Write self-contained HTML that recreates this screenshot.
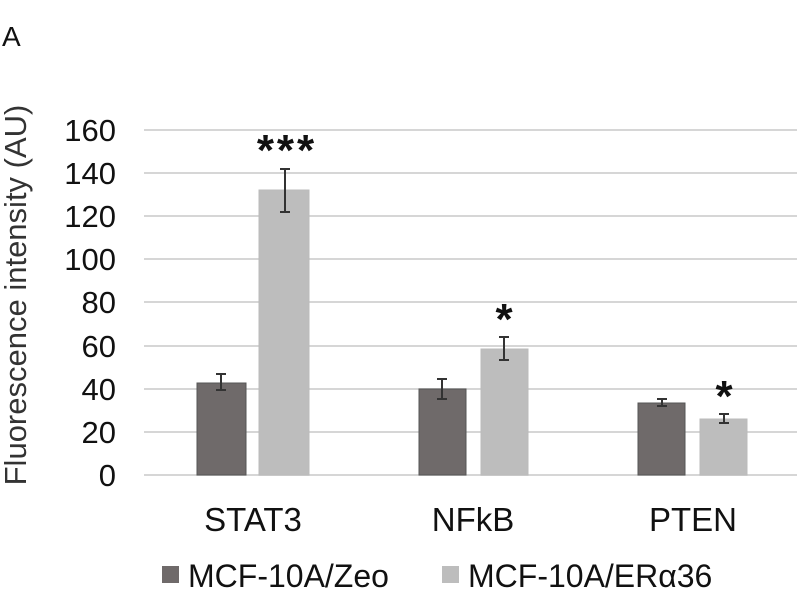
<!DOCTYPE html>
<html><head><meta charset="utf-8"><style>
body{margin:0;background:#fff}
svg{display:block;font-family:"Liberation Sans",Arial,sans-serif}
</style></head><body>
<svg width="800" height="600" viewBox="0 0 800 600">
<text x="2" y="46" font-size="28" fill="#111">A</text>
<g stroke="#d6d6d6" stroke-width="2">
<line x1="144" x2="797" y1="130" y2="130"/><line x1="144" x2="797" y1="173" y2="173"/>
<line x1="144" x2="797" y1="216" y2="216"/><line x1="144" x2="797" y1="259" y2="259"/>
<line x1="144" x2="797" y1="302" y2="302"/><line x1="144" x2="797" y1="346" y2="346"/>
<line x1="144" x2="797" y1="389" y2="389"/><line x1="144" x2="797" y1="432" y2="432"/>
<line x1="144" x2="797" y1="475" y2="475"/>
</g>
<g font-size="31" fill="#111" text-anchor="end">
<text x="116" y="141">160</text><text x="116" y="184">140</text><text x="116" y="227">120</text>
<text x="116" y="270">100</text><text x="116" y="313">80</text><text x="116" y="357">60</text>
<text x="116" y="400">40</text><text x="116" y="443">20</text><text x="116" y="486">0</text>
</g>
<text transform="translate(26,295) rotate(-90)" font-size="31" fill="#333" text-anchor="middle">Fluorescence intensity (AU)</text>
<g stroke="#555" stroke-width="1">
<rect x="197" y="383" width="49" height="92" fill="#6f6a6a"/>
<rect x="259" y="190" width="50" height="285" fill="#bdbdbd" stroke="#bbb"/>
<rect x="419" y="389" width="47" height="86" fill="#6f6a6a"/>
<rect x="481" y="349" width="47" height="126" fill="#bdbdbd" stroke="#bbb"/>
<rect x="638" y="403" width="47" height="72" fill="#6f6a6a"/>
<rect x="700" y="419" width="47" height="56" fill="#bdbdbd" stroke="#bbb"/>
</g>
<g stroke="#333" stroke-width="2" fill="none">
<path d="M221 374V390M216 374h10M216 390h10"/>
<path d="M285 169V212M280 169h10M280 212h10"/>
<path d="M442 379V399M437 379h10M437 399h10"/>
<path d="M504 337V360M499 337h10M499 360h10"/>
<path d="M662 399V406M657 399h10M657 406h10"/>
<path d="M724 414V423M719 414h10M719 423h10"/>
</g>
<g font-size="44" fill="#111" text-anchor="middle" font-weight="bold">
<text x="287" y="165" letter-spacing="3">***</text>
<text x="504" y="334">*</text>
<text x="724" y="411">*</text>
</g>
<g font-size="33" fill="#111" text-anchor="middle">
<text x="253" y="531">STAT3</text><text x="473" y="531">NFkB</text><text x="693" y="531">PTEN</text>
</g>
<rect x="162" y="566" width="17" height="17" fill="#6f6a6a"/>
<text x="188" y="587" font-size="32" fill="#111">MCF-10A/Zeo</text>
<rect x="442" y="566" width="17" height="17" fill="#bdbdbd"/>
<text x="468" y="587" font-size="32" fill="#111">MCF-10A/ERα36</text>
</svg>
</body></html>
